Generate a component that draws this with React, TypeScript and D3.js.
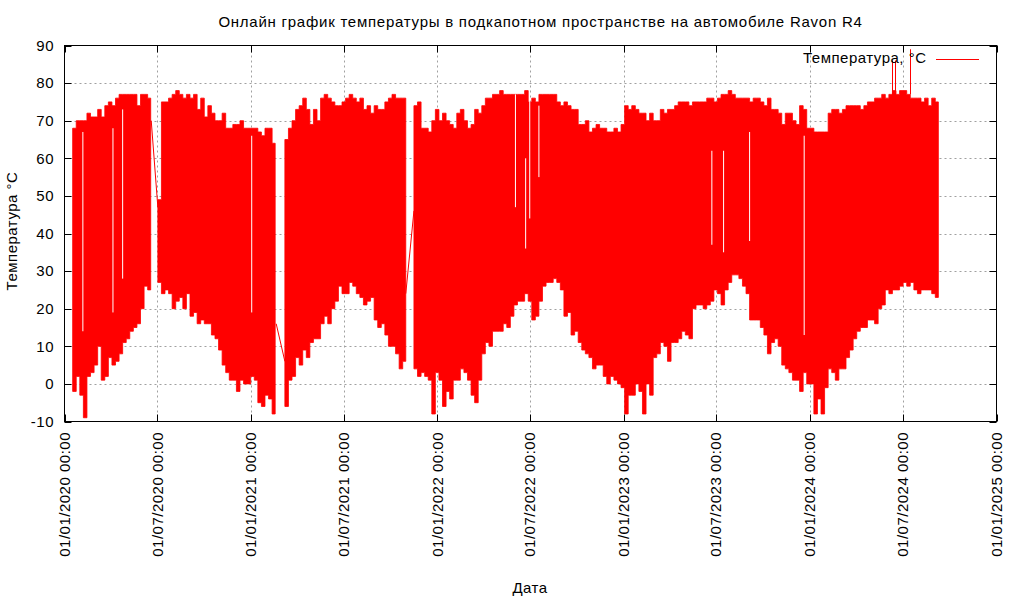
import React from "react";
import * as d3 from "d3";

// ---------- data ----------
const xTickDates = ["2020-01-01","2020-07-01","2021-01-01","2021-07-01","2022-01-01","2022-07-01","2023-01-01","2023-07-01","2024-01-01","2024-07-01","2025-01-01"];
const xTickLabels = ["01/01/2020 00:00","01/07/2020 00:00","01/01/2021 00:00","01/07/2021 00:00","01/01/2022 00:00","01/07/2022 00:00","01/01/2023 00:00","01/07/2023 00:00","01/01/2024 00:00","01/07/2024 00:00","01/01/2025 00:00"];
const yTicks = [-10, 0, 10, 20, 30, 40, 50, 60, 70, 80, 90];

// weekly envelope (max / min) of the temperature, per continuous recording segment
const segAStart = "2020-01-17";
const segAHi = [68,70,70,70,72,71,71,73,71,74,75,74,76,77,77,77,77,77,74,77,77,76];
const segALo = [-2,2,-3,-9,2,3,5,10,1,2,7,5,6,8,11,12,14,15,16,20,26,25];

const segBStart = "2020-07-02";
const segBHi = [49,75,75,76,77,78,77,76,77,76,77,73,76,71,74,72,70,70,72,68,68,69,69,70,68,68,68,68,67,66,68,68,64];
const segBLo = [27,24,25,24,20,22,23,20,24,18,19,16,17,16,16,13,12,9,5,3,1,1,-2,1,0,0,2,1,-5,-6,-3,-4,-8];

const segCStart = "2021-03-08";
const segCHi = [65,68,70,73,74,76,73,69,73,70,76,77,76,75,74,74,75,76,77,76,75,76,73,74,72,74,73,73,75,76,77,76,76,76];
const segCLo = [-6,1,2,7,5,9,7,11,12,12,16,18,16,20,22,26,24,24,27,26,24,23,21,22,23,17,15,16,13,10,10,8,4,6];

const segDStart = "2021-11-16";
const segDHi = [
  74,75,68,68,67,70,73,70,72,70,
  69,68,72,73,70,68,69,73,72,74,
  76,76,77,77,78,77,77,77,77,77,
  77,78,75,76,75,77,77,77,77,77,
  75,74,75,74,73,73,69,69,70,67,
  68,69,68,68,67,67,68,67,69,74,
  73,74,73,72,72,70,72,70,70,73,
  72,73,73,74,75,75,75,74,75,75,
  75,75,76,76,75,76,77,77,78,77,
  76,76,76,76,75,76,76,75,74,76,
  73,73,72,69,72,72,70,69,74,73,
  68,68,67,67,67,67,72,73,73,72,
  73,74,74,74,74,73,74,75,75,76,
  76,77,76,77,78,77,78,78,77,76,
  76,76,75,76,74,76,75];
const segDLo = [
  4,2,3,2,1,-8,3,1,-6,-2,
  -4,1,1,4,3,1,-3,-5,1,8,
  11,10,14,14,14,16,15,18,21,22,
  22,24,22,17,18,22,26,27,27,28,
  27,25,18,19,13,14,11,9,8,7,
  4,5,5,2,0,2,1,0,-1,-8,
  -3,-3,0,-2,-8,0,-3,7,8,11,
  10,6,11,11,12,14,13,12,20,21,
  21,20,21,22,25,24,21,25,27,29,
  29,28,26,24,17,17,17,15,13,8,
  11,12,10,5,4,3,1,1,-2,3,
  0,0,-8,-4,-8,-1,4,3,1,4,
  4,7,9,12,14,15,15,17,17,16,
  20,21,25,24,25,25,26,27,26,27,
  25,24,25,25,25,24,23];

// straight joins across recording gaps
const linkFromDates = ["2020-06-19", "2021-02-19", "2021-10-31"];
const linkFromValues = [70, 16, 24];
const linkToDates = ["2020-07-02", "2021-03-08", "2021-11-16"];
const linkToValues = [47, 6, 46];

// isolated hot spikes
const spikeDates = ["2024-06-11", "2024-06-16", "2024-07-15"];
const spikeBase = [76, 76, 77];
const spikeValues = [86, 86, 89];

// narrow white gaps inside the filled band
const gapDates = ["2020-02-06","2020-04-05","2020-04-24","2021-01-02","2022-06-03","2022-06-23","2022-07-01","2022-07-19","2023-06-23","2023-07-16","2023-09-05","2023-12-21"];
const gapTop = [67, 68, 73, 66, 77, 60, 76, 74, 62, 62, 67, 66];
const gapBottom = [14, 19, 28, 19, 47, 36, 44, 55, 37, 35, 38, 13];

// ---------- layout ----------
const W = 1024, H = 600;
const L = 64.5, R = 996.5, T = 45.5, B = 421.5;
const FONT = "'Liberation Sans', Arial, sans-serif";
const FS = 15;
const LS = 0.5;
const parse = d3.utcParse("%Y-%m-%d");

export default function App() {
  const x = d3.scaleUtc()
    .domain([parse("2020-01-01")!, parse("2025-01-01")!])
    .range([L, R]);
  const y = d3.scaleLinear().domain([-10, 90]).range([B, T]);

  const segs = [
    { start: segAStart, hi: segAHi, lo: segALo },
    { start: segBStart, hi: segBHi, lo: segBLo },
    { start: segCStart, hi: segCHi, lo: segCLo },
    { start: segDStart, hi: segDHi, lo: segDLo },
  ];

  type P = { d: Date; hi: number; lo: number };
  const area = d3.area<P>()
    .curve(d3.curveStepAfter)
    .x((p) => x(p.d))
    .y0((p) => y(p.lo))
    .y1((p) => y(p.hi));

  const segPaths = segs.map((s) => {
    const s0 = parse(s.start)!;
    const pts: P[] = s.hi.map((h, k) => ({ d: d3.utcDay.offset(s0, 7 * k), hi: h, lo: s.lo[k] }));
    const n = s.hi.length;
    pts.push({ d: d3.utcDay.offset(s0, 7 * n - 1), hi: s.hi[n - 1], lo: s.lo[n - 1] });
    return area(pts) || "";
  });

  const red = "#ff0000";

  return (
    <svg width={W} height={H} style={{ display: "block", position: "absolute", left: 0, top: 0, background: "#fff" }} fontFamily={FONT}>
      <rect x={0} y={0} width={W} height={H} fill="#fff" />
      {/* grid */}
      <g stroke="#a0a0a0" strokeWidth={1} strokeDasharray="2,3">
        {yTicks.slice(1, -1).map((v) => (
          <line key={"gy" + v} x1={L} x2={R} y1={Math.round(y(v)) + 0.5} y2={Math.round(y(v)) + 0.5} />
        ))}
        {xTickDates.slice(1, -1).map((d) => (
          <line key={"gx" + d} x1={Math.round(x(parse(d)!)) + 0.5} x2={Math.round(x(parse(d)!)) + 0.5} y1={T} y2={B} />
        ))}
      </g>
      {/* data */}
      <g>
        {segPaths.map((p, i) => (
          <path key={"s" + i} d={p} fill={red} stroke={red} strokeWidth={0.8} />
        ))}
        {gapDates.map((d, i) => (
          <line key={"g" + i} x1={x(parse(d)!)} x2={x(parse(d)!)} y1={y(gapTop[i])} y2={y(gapBottom[i])} stroke="#fff" strokeWidth={1} />
        ))}
        {linkFromDates.map((d, i) => (
          <line key={"l" + i} x1={x(parse(d)!)} y1={y(linkFromValues[i])} x2={x(parse(linkToDates[i])!)} y2={y(linkToValues[i])} stroke={red} strokeWidth={1} />
        ))}
        {spikeDates.map((d, i) => (
          <line key={"k" + i} x1={Math.round(x(parse(d)!)) + 0.5} x2={Math.round(x(parse(d)!)) + 0.5} y1={y(spikeBase[i])} y2={y(spikeValues[i])} stroke={red} strokeWidth={1} />
        ))}
      </g>
      {/* frame and ticks */}
      <g stroke="#000" strokeWidth={1} fill="none">
        <rect x={L} y={T} width={R - L} height={B - T} />
        {yTicks.map((v) => {
          const yy = Math.round(y(v)) + 0.5;
          return (
            <g key={"ty" + v}>
              <line x1={L} x2={L + 7} y1={yy} y2={yy} />
              <line x1={R - 7} x2={R} y1={yy} y2={yy} />
            </g>
          );
        })}
        {xTickDates.map((d) => {
          const xx = Math.round(x(parse(d)!)) + 0.5;
          return (
            <g key={"tx" + d}>
              <line x1={xx} x2={xx} y1={B} y2={B - 7} />
              <line x1={xx} x2={xx} y1={T} y2={T + 7} />
            </g>
          );
        })}
      </g>
      {/* tick labels */}
      <g fontSize={FS} fill="#000" letterSpacing={LS}>
        {yTicks.map((v) => (
          <text key={"ly" + v} x={54} y={y(v)} dy="0.35em" textAnchor="end">{v}</text>
        ))}
        {xTickDates.map((d, i) => {
          const xx = x(parse(d)!);
          return (
            <text key={"lx" + d} transform={`translate(${xx},432) rotate(-90)`} textAnchor="end" dy="0.35em">{xTickLabels[i]}</text>
          );
        })}
      </g>
      {/* titles */}
      <g fontSize={FS} fill="#000" letterSpacing={LS}>
        <text x={540.5} y={26.7} textAnchor="middle" letterSpacing={0.75}>Онлайн график температуры в подкапотном пространстве на автомобиле Ravon R4</text>
        <text x={530} y={593} textAnchor="middle">Дата</text>
        <text transform="translate(17,231) rotate(-90)" textAnchor="middle">Температура °C</text>
        {/* legend */}
        <text x={926.5} y={63} textAnchor="end">Температура, °C</text>
      </g>
      <line x1={936} x2={979} y1={59.5} y2={59.5} stroke={red} strokeWidth={1} />
    </svg>
  );
}
